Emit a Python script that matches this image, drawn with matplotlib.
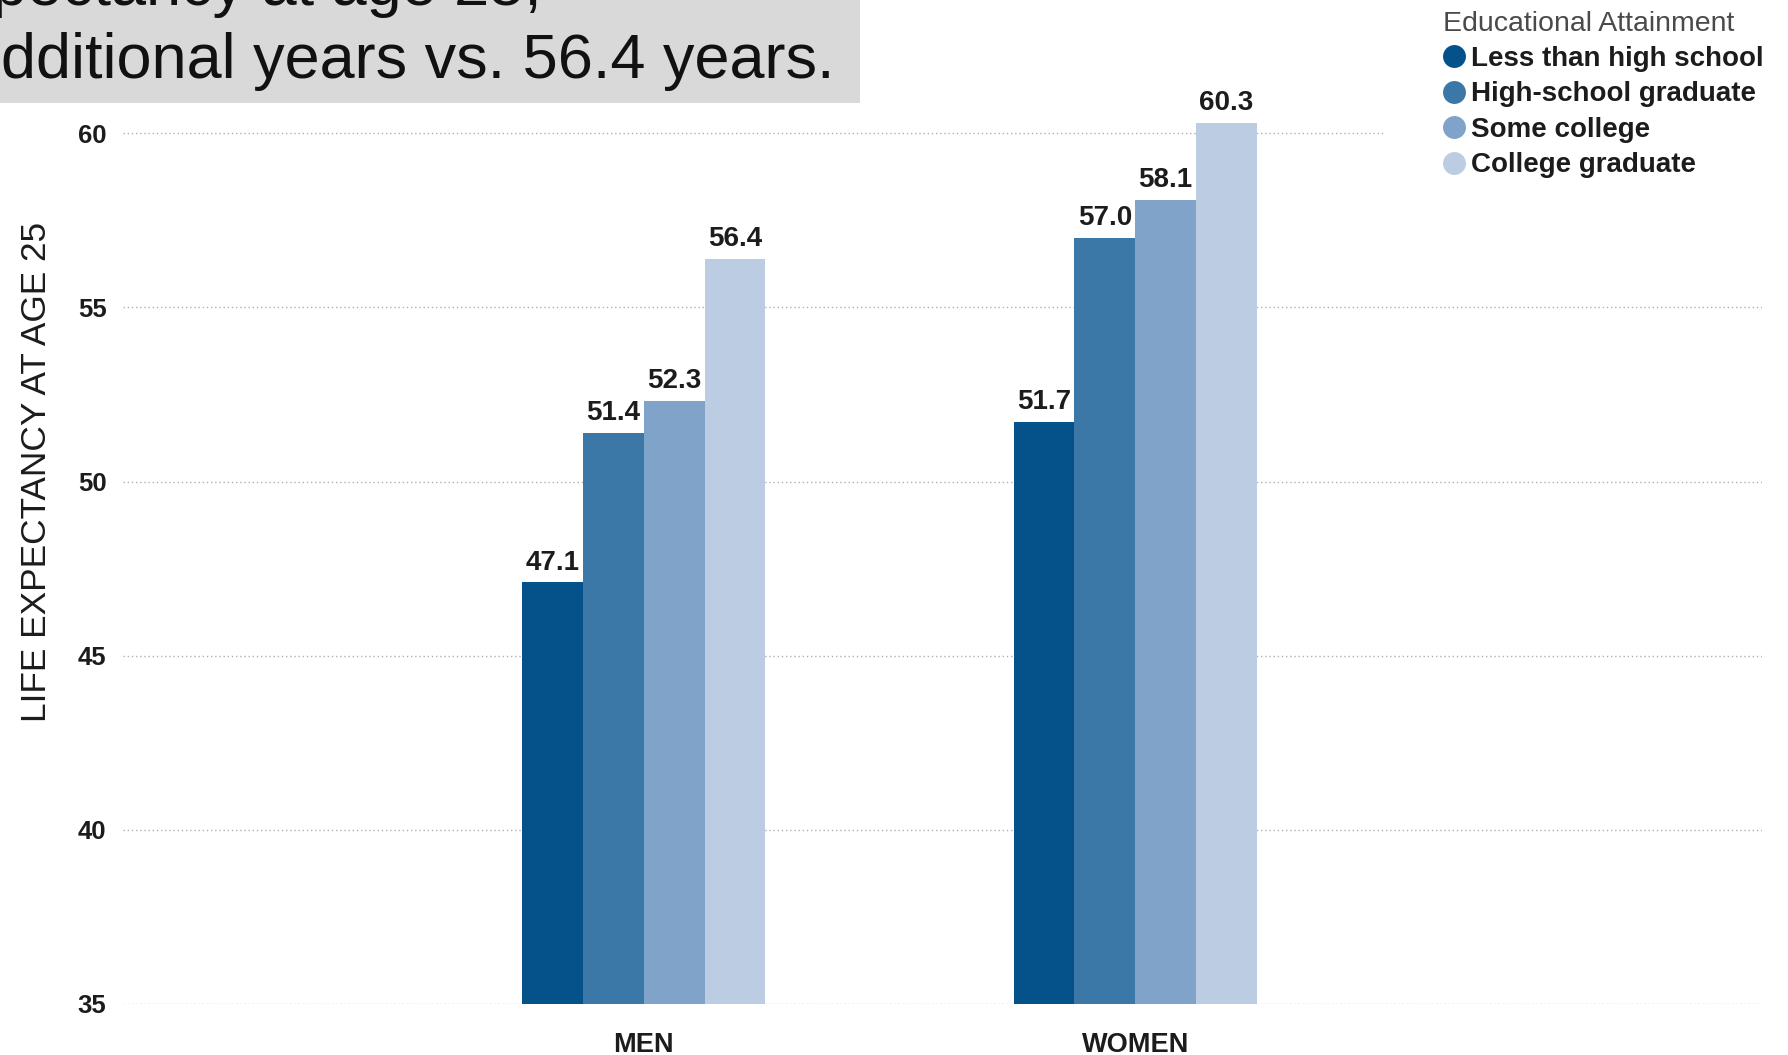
import matplotlib.pyplot as plt
from matplotlib.lines import Line2D
from matplotlib.patches import Rectangle
import numpy as np

plt.rcParams["font.family"] = ["Liberation Sans", "DejaVu Sans"]

# data
groups = ["MEN", "WOMEN"]
education = ["Less than high school", "High-school graduate", "Some college", "College graduate"]
men_values = [47.1, 51.4, 52.3, 56.4]
women_values = [51.7, 57.0, 58.1, 60.3]
yticks = [35, 40, 45, 50, 55, 60]

colors = ["#05528a", "#3b77a7", "#80a3c9", "#bbcce3"]
text_col = "#1c1c1c"

fig = plt.figure(figsize=(17.88, 10.55), dpi=100)
ax = fig.add_axes([0.0689, 0.0486, 0.9164, 0.891])

x = np.arange(len(groups))
width = 0.1237
values = np.array([men_values, women_values])
for i, label in enumerate(education):
    pos = x + (i - 1.5) * width
    # bars start at zero, the axis is cut at 35
    bars = ax.bar(pos, values[:, i], width=width, color=colors[i],
                  label=label, zorder=3, linewidth=0)
    for b, v in zip(bars, values[:, i]):
        ax.annotate(f"{v:.1f}", (b.get_x() + b.get_width() / 2, v),
                    xytext=(0, 5), textcoords="offset points",
                    ha="center", va="bottom", fontsize=20, fontweight="bold",
                    color=text_col)

ax.set_xlim(-1.0592, 2.2749)
ax.set_ylim(35, 62)
ax.set_yticks(yticks)
ax.set_yticklabels([str(t) for t in yticks], fontsize=18.5, fontweight="bold", color=text_col)
ax.set_xticks(x)
ax.set_xticklabels(groups, fontsize=19.5, fontweight="bold", color=text_col)
ax.tick_params(axis="y", length=0, pad=12)
ax.tick_params(axis="x", length=0, pad=20)
ax.yaxis.grid(True, linestyle=(0, (1, 2)), color="#b0b0b0", linewidth=1.0, zorder=0)
ax.set_axisbelow(True)
for s in ax.spines.values():
    s.set_visible(False)

fig.text(0.0204, 0.553, "LIFE EXPECTANCY AT AGE 25", rotation=90, fontsize=25.4,
         ha="center", va="center", color=text_col)

# grey headline box, cut off at the top left
fig.add_artist(Rectangle((0, 0.9024), 0.481, 0.0976, transform=fig.transFigure,
                         facecolor="#d9d9d9", edgecolor="none", zorder=1))
fig.text(0.303, 0.995, "pectancy at age 25,", ha="right", va="baseline",
         fontsize=45.4, color="#111111", zorder=2)
fig.text(0.4665, 0.9265, "dditional years vs. 56.4 years.", ha="right", va="baseline",
         fontsize=45.4, color="#111111", zorder=2)

# white backing behind the legend
fig.add_artist(Rectangle((0.775, 0.82), 0.225, 0.18, transform=fig.transFigure,
                         facecolor="white", edgecolor="none", zorder=1))
handles = [Line2D([], [], marker="o", linestyle="none", markersize=16.5,
                  markerfacecolor=c, markeredgecolor="none") for c in colors]
leg = fig.legend(handles, education, loc="upper left", bbox_to_anchor=(0.807, 0.99),
                 frameon=False, title="Educational Attainment", alignment="left",
                 prop={"size": 20, "weight": "bold"}, title_fontproperties={"size": 20.5},
                 handlelength=0.8, handletextpad=0.2, labelspacing=0.34, borderpad=0,
                 borderaxespad=0)
leg.get_title().set_color("#4a4a4a")
for t in leg.get_texts():
    t.set_color(text_col)
leg.set_zorder(5)

fig.savefig("out.png", dpi=100)
